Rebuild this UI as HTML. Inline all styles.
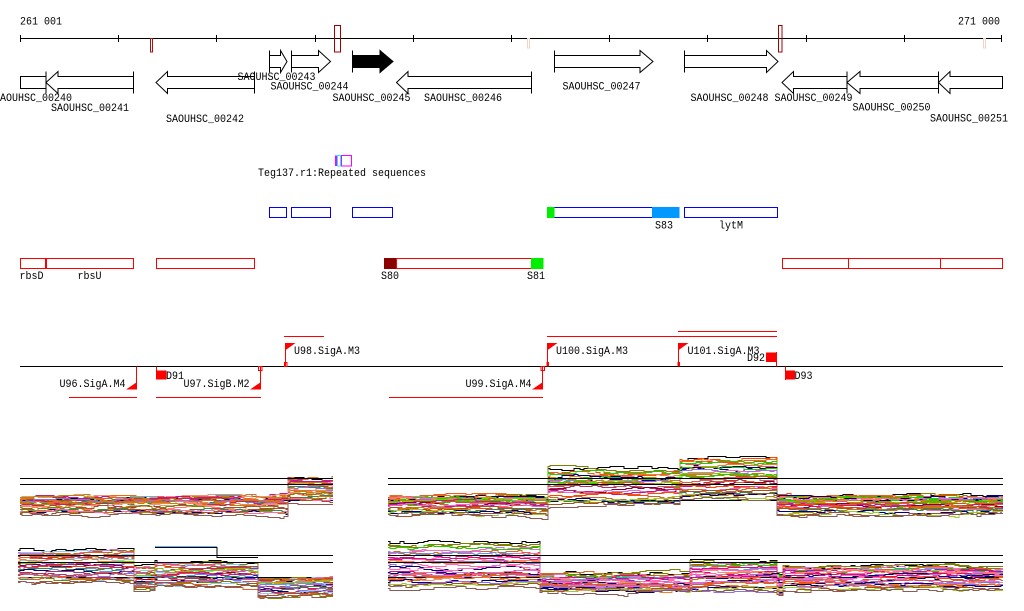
<!DOCTYPE html>
<html><head><meta charset="utf-8"><style>
html,body{margin:0;padding:0;background:#fff;}
svg{display:block;}
text{font-family:"Liberation Mono","DejaVu Sans Mono",monospace;font-size:11px;fill:#000;}
</style></head><body>
<svg id="s" width="1024" height="611" viewBox="0 0 1024 611" xmlns="http://www.w3.org/2000/svg">
<rect width="1024" height="611" fill="#fff"/>
<text x="20" y="24.5" textLength="42" lengthAdjust="spacingAndGlyphs">261 001</text>
<text x="958" y="24.5" textLength="42" lengthAdjust="spacingAndGlyphs">271 000</text>
<g stroke="#000" stroke-width="1" shape-rendering="crispEdges">
<line x1="20" y1="38.5" x2="1002" y2="38.5"/>
<line x1="20.5" y1="35" x2="20.5" y2="42"/><line x1="118.5" y1="35" x2="118.5" y2="42"/><line x1="216.5" y1="35" x2="216.5" y2="42"/><line x1="315.5" y1="35" x2="315.5" y2="42"/><line x1="413.5" y1="35" x2="413.5" y2="42"/><line x1="511.5" y1="35" x2="511.5" y2="42"/><line x1="609.5" y1="35" x2="609.5" y2="42"/><line x1="707.5" y1="35" x2="707.5" y2="42"/><line x1="806.5" y1="35" x2="806.5" y2="42"/><line x1="904.5" y1="35" x2="904.5" y2="42"/><line x1="1001.5" y1="35" x2="1001.5" y2="42"/>
</g>
<g fill="none" shape-rendering="crispEdges">
<rect x="150.5" y="38.5" width="2" height="13.5" stroke="#b01010"/>
<rect x="334.5" y="25.5" width="6" height="26.5" stroke="#a00000" stroke-width="1.3"/>
<rect x="527.5" y="38.5" width="2" height="9.5" stroke="#f6d2c4"/>
<rect x="778.5" y="25.5" width="3.5" height="26.5" stroke="#a00000" stroke-width="1.3"/>
<rect x="983.5" y="38.5" width="2" height="9.5" stroke="#f6d2c4"/>
</g>
<!-- genes row 1 -->
<g stroke="#000" stroke-width="1" fill="#fff">
<polygon points="269.5,55.5 280.5,55.5 280.5,50.5 287,61.5 280.5,72.5 280.5,67.5 269.5,67.5"/><line x1="269.5" y1="50.5" x2="269.5" y2="72.5"/>
<polygon points="291.5,55.5 318.5,55.5 318.5,50.5 330.5,61.5 318.5,72.5 318.5,67.5 291.5,67.5"/><line x1="291.5" y1="50.5" x2="291.5" y2="72.5"/>
<polygon fill="#000" points="352.5,55.5 380,55.5 380,50.5 393,61.5 380,72.5 380,67.5 352.5,67.5"/><line x1="352.5" y1="50.5" x2="352.5" y2="72.5"/>
<polygon points="554.5,55.5 640,55.5 640,50.5 653,61.5 640,72.5 640,67.5 554.5,67.5"/><line x1="554.5" y1="50.5" x2="554.5" y2="72.5"/>
<polygon points="684.5,55.5 766.5,55.5 766.5,50.5 778,61.5 766.5,72.5 766.5,67.5 684.5,67.5"/><line x1="684.5" y1="50.5" x2="684.5" y2="72.5"/>
<!-- row 2 -->
<rect x="20.5" y="76.5" width="25.5" height="12"/><line x1="46" y1="71.5" x2="46" y2="93.5"/>
<polygon points="133.5,76.5 58,76.5 58,71.5 46,82.5 58,93.5 58,88.5 133.5,88.5"/><line x1="133.5" y1="71.5" x2="133.5" y2="93.5"/>
<polygon points="254.5,76.5 167.5,76.5 167.5,71.5 156,82.5 167.5,93.5 167.5,88.5 254.5,88.5"/><line x1="254.5" y1="71.5" x2="254.5" y2="93.5"/>
<polygon points="531.5,76.5 408,76.5 408,71.5 396.5,82.5 408,93.5 408,88.5 531.5,88.5"/><line x1="531.5" y1="71.5" x2="531.5" y2="93.5"/>
<polygon points="847,76.5 793.5,76.5 793.5,71.5 782,82.5 793.5,93.5 793.5,88.5 847,88.5"/><line x1="847" y1="71.5" x2="847" y2="93.5"/>
<polygon points="938.5,76.5 860,76.5 860,71.5 847,82.5 860,93.5 860,88.5 938.5,88.5"/><line x1="938.5" y1="71.5" x2="938.5" y2="93.5"/>
<polygon points="1002.5,76.5 950,76.5 950,71.5 938.5,82.5 950,93.5 950,88.5 1002.5,88.5"/>
</g>
<text x="-6" y="101" textLength="78" lengthAdjust="spacingAndGlyphs">SAOUHSC_00240</text>
<text x="51" y="111" textLength="78" lengthAdjust="spacingAndGlyphs">SAOUHSC_00241</text>
<text x="166" y="122" textLength="78" lengthAdjust="spacingAndGlyphs">SAOUHSC_00242</text>
<text x="237.5" y="80" textLength="78" lengthAdjust="spacingAndGlyphs">SAOUHSC_00243</text>
<text x="270.5" y="89.5" textLength="78" lengthAdjust="spacingAndGlyphs">SAOUHSC_00244</text>
<text x="332.5" y="101" textLength="78" lengthAdjust="spacingAndGlyphs">SAOUHSC_00245</text>
<text x="424" y="101" textLength="78" lengthAdjust="spacingAndGlyphs">SAOUHSC_00246</text>
<text x="562.5" y="89.5" textLength="78" lengthAdjust="spacingAndGlyphs">SAOUHSC_00247</text>
<text x="690.5" y="101" textLength="78" lengthAdjust="spacingAndGlyphs">SAOUHSC_00248</text>
<text x="774.5" y="101" textLength="78" lengthAdjust="spacingAndGlyphs">SAOUHSC_00249</text>
<text x="852.5" y="110.5" textLength="78" lengthAdjust="spacingAndGlyphs">SAOUHSC_00250</text>
<text x="930" y="121.5" textLength="78" lengthAdjust="spacingAndGlyphs">SAOUHSC_00251</text>
<!-- repeats -->
<g shape-rendering="crispEdges">
<rect x="335" y="155.5" width="2.5" height="10.5" fill="#ff00ff"/>
<rect x="337.5" y="155.5" width="3" height="10.5" fill="none" stroke="#00ffff"/>
<rect x="341.5" y="155.5" width="10" height="10.5" fill="none" stroke="#ff00ff"/>
</g>
<text x="258" y="176" textLength="168" lengthAdjust="spacingAndGlyphs">Teg137.r1:Repeated sequences</text>
<!-- blue row -->
<g fill="none" stroke="#0000ff" shape-rendering="crispEdges">
<rect x="269.5" y="207.5" width="17" height="10"/>
<rect x="291.5" y="207.5" width="39" height="10"/>
<rect x="352.5" y="207.5" width="40" height="10"/>
<rect x="547.5" y="207.5" width="131.5" height="10"/>
<rect x="684.5" y="207.5" width="93" height="10"/>
</g>
<rect x="547" y="207" width="7.5" height="11" fill="#00ee00"/>
<rect x="652" y="207" width="27.5" height="11" fill="#0099ff"/>
<text x="655" y="228.5" textLength="18" lengthAdjust="spacingAndGlyphs">S83</text>
<text x="719" y="228.5" textLength="24" lengthAdjust="spacingAndGlyphs">lytM</text>
<!-- red row -->
<g fill="none" stroke="#ff0000" shape-rendering="crispEdges">
<rect x="20.5" y="258.5" width="25" height="10"/>
<rect x="46.5" y="258.5" width="87" height="10"/>
<rect x="156.5" y="258.5" width="98" height="10"/>
<rect x="396.5" y="258.5" width="135" height="10"/>
<rect x="782.5" y="258.5" width="66" height="10"/>
<rect x="848.5" y="258.5" width="92" height="10"/>
<rect x="940.5" y="258.5" width="62" height="10"/>
</g>
<rect x="45.5" y="258" width="1.5" height="11" fill="#ff0000"/>
<rect x="384" y="258" width="12" height="11" fill="#8b0000"/>
<rect x="531" y="258" width="12.5" height="11" fill="#00ee00"/>
<text x="19.5" y="279" textLength="24" lengthAdjust="spacingAndGlyphs">rbsD</text>
<text x="77.5" y="279" textLength="24" lengthAdjust="spacingAndGlyphs">rbsU</text>
<text x="381" y="279" textLength="18" lengthAdjust="spacingAndGlyphs">S80</text>
<text x="527" y="279" textLength="18" lengthAdjust="spacingAndGlyphs">S81</text>
<!-- promoters -->
<line x1="20" y1="366.5" x2="1003" y2="366.5" stroke="#000" shape-rendering="crispEdges"/>
<g stroke="#ff0000" fill="none" shape-rendering="crispEdges">
<line x1="136.5" y1="366.5" x2="136.5" y2="389"/>
<line x1="69" y1="397.5" x2="137" y2="397.5"/>
<line x1="156.5" y1="366.5" x2="156.5" y2="371"/>
<line x1="260.5" y1="366.5" x2="260.5" y2="389"/>
<rect x="258.5" y="366.5" width="3.5" height="4"/>
<line x1="156" y1="397.5" x2="261" y2="397.5"/>
<line x1="285.5" y1="343.5" x2="285.5" y2="366.5"/>
<rect x="284.5" y="362.5" width="2.5" height="4"/>
<line x1="284" y1="336.5" x2="324" y2="336.5"/>
<line x1="542.5" y1="366.5" x2="542.5" y2="389"/>
<rect x="541" y="366.5" width="3.5" height="4"/>
<line x1="389" y1="397.5" x2="543" y2="397.5"/>
<line x1="547.5" y1="343.5" x2="547.5" y2="366.5"/>
<line x1="547" y1="336.5" x2="777" y2="336.5"/>
<line x1="678.5" y1="343.5" x2="678.5" y2="366.5"/>
<line x1="678" y1="331.5" x2="777" y2="331.5"/>
<line x1="776.5" y1="352" x2="776.5" y2="366.5"/>
<line x1="785.5" y1="366.5" x2="785.5" y2="380"/>
</g>
<g fill="#ff0000">
<polygon points="126,389.5 137,389.5 137,382"/>
<rect x="156" y="370.5" width="10.5" height="9"/>
<polygon points="250,389.5 261,389.5 261,382"/>
<polygon points="285,343 295.5,343 285,350.5"/>
<polygon points="532,389.5 543,389.5 543,382"/>
<polygon points="547,343 557.5,343 547,350.5"/>
<rect x="546.5" y="362" width="2.5" height="4.5"/>
<polygon points="678,343 688.5,343 678,350.5"/>
<rect x="677.5" y="362" width="2.5" height="4.5"/>
<rect x="766" y="352.5" width="10.5" height="9.5"/>
<rect x="785" y="370.5" width="10" height="9"/>
</g>
<text x="59.5" y="387" textLength="66" lengthAdjust="spacingAndGlyphs">U96.SigA.M4</text>
<text x="166" y="379" textLength="18" lengthAdjust="spacingAndGlyphs">D91</text>
<text x="183.5" y="387" textLength="66" lengthAdjust="spacingAndGlyphs">U97.SigB.M2</text>
<text x="294" y="354" textLength="66" lengthAdjust="spacingAndGlyphs">U98.SigA.M3</text>
<text x="465.5" y="387" textLength="66" lengthAdjust="spacingAndGlyphs">U99.SigA.M4</text>
<text x="556" y="354" textLength="72" lengthAdjust="spacingAndGlyphs">U100.SigA.M3</text>
<text x="687.5" y="354" textLength="72" lengthAdjust="spacingAndGlyphs">U101.SigA.M3</text>
<text x="747" y="361" textLength="18" lengthAdjust="spacingAndGlyphs">D92</text>
<text x="794.5" y="379" textLength="18" lengthAdjust="spacingAndGlyphs">D93</text>
<g id="plots" fill="none" stroke-width="1" shape-rendering="crispEdges"></g>
<g id="refs" stroke="#000" stroke-width="1.2" shape-rendering="crispEdges">
<line x1="20" y1="478.5" x2="333" y2="478.5"/><line x1="20" y1="484.5" x2="333" y2="484.5"/>
<line x1="388" y1="478.5" x2="1003" y2="478.5"/><line x1="388" y1="484.5" x2="1003" y2="484.5"/>
<line x1="18" y1="555.5" x2="333" y2="555.5"/><line x1="18" y1="562.5" x2="333" y2="562.5"/>
<line x1="388" y1="555.5" x2="1003" y2="555.5"/><line x1="388" y1="562.5" x2="1003" y2="562.5"/>
</g>
</svg>
<script>
(function(){
var NS='http://www.w3.org/2000/svg';
var g=document.getElementById('plots');
var seed=424242;
function r(){seed=(seed*1103515245+12345)%2147483648;return seed/2147483648;}
var pal=['#e0602a','#d2691e','#808000','#22cc00','#7ccd00','#c71585','#800040','#ff69b4','#6495ed','#87cefa','#a0522d','#e9967a','#9370db','#000080','#ff4500','#2e8b57','#b8860b','#da70d6','#ff7f50','#cd5c5c','#e07020','#f08030','#9acd32','#b03060','#e06030','#d05020'];
function line(pts,col){var p=document.createElementNS(NS,'polyline');p.setAttribute('points',pts.join(' '));p.setAttribute('stroke',col);g.appendChild(p);}
function ref(x1,x2,y){var l=document.createElementNS(NS,'line');l.setAttribute('x1',x1);l.setAttribute('x2',x2);l.setAttribute('y1',y);l.setAttribute('y2',y);l.setAttribute('stroke','#000');g.appendChild(l);}
function plot(segs,n){
 for(var i=0;i<n;i++){
  var rank=i/(n-1);
  var col=pal[Math.floor(r()*pal.length)];
  if(i==0)col='#000';else if(i==1)col='#808000';else if(i==n-1)col='#8b5a50';else if(i==n-2)col='#a0522d';
  var pts=[],noise=0,prevY=null;
  for(var k=0;k<segs.length;k++){
   var s=segs[k],x0=s[0],x1=s[1],t=s[2],b=s[3],pw=s[4]||1;
   var rr=rank;
   if(i>0&&i<n-1){rr=Math.min(1,Math.max(0,rank+(r()-0.5)*0.12));}
   var base=t+Math.pow(rr,pw)*(b-t);
   var hold=0;
   var y=Math.round(base+noise)+0.5;
   pts.push(x0+','+y);
   for(var x=x0+2;x<x1;x+=2){
    hold--;
    if(hold<=0){
      noise+=(r()<0.5?-1:1)*(r()<0.75?1:2);
      noise*=0.8;
      hold=Math.floor(r()*6)+2;
      var ny=Math.round(base+noise)+0.5;
      if(ny!==y){pts.push(x+','+y);pts.push(x+','+ny);y=ny;}
    }
   }
   pts.push(x1+','+y);
  }
  line(pts,col);
 }
}
ref(20,333,500.5);ref(388,1003,500.5);ref(18,333,577.5);ref(388,1003,577.5);
plot([[20,288,497,514,1.6],[288,333,478,501,1.0]],28);
plot([[388,548,497,514,1.6],[548,680,468,503,1.0],[680,777,458,498,1.0],[777,1003,497,514,1.6]],32);
plot([[18,134,550,582,1.1],[134,155,567,590,1.0],[155,258,563,586,1.0],[258,333,578,596,1.2]],28);
plot([[388,540,541,588,0.8],[540,690,573,592,1.0],[690,777,562,591,1.1],[777,783,575,592,1],[783,1003,566,589,1.1]],32);
line(['155,547.5','217,547.5','217,557.5','258,557.5'],'#000');
line(['155,546.5','217,546.5'],'#5fb4f0');
line(['130,496.5','157,496.5'],'#5fb4f0');
line(['215,494.5','240,494.5'],'#5fb4f0');
line(['690,559.5','760,559.5'],'#000');
})();
</script>
</body></html>
